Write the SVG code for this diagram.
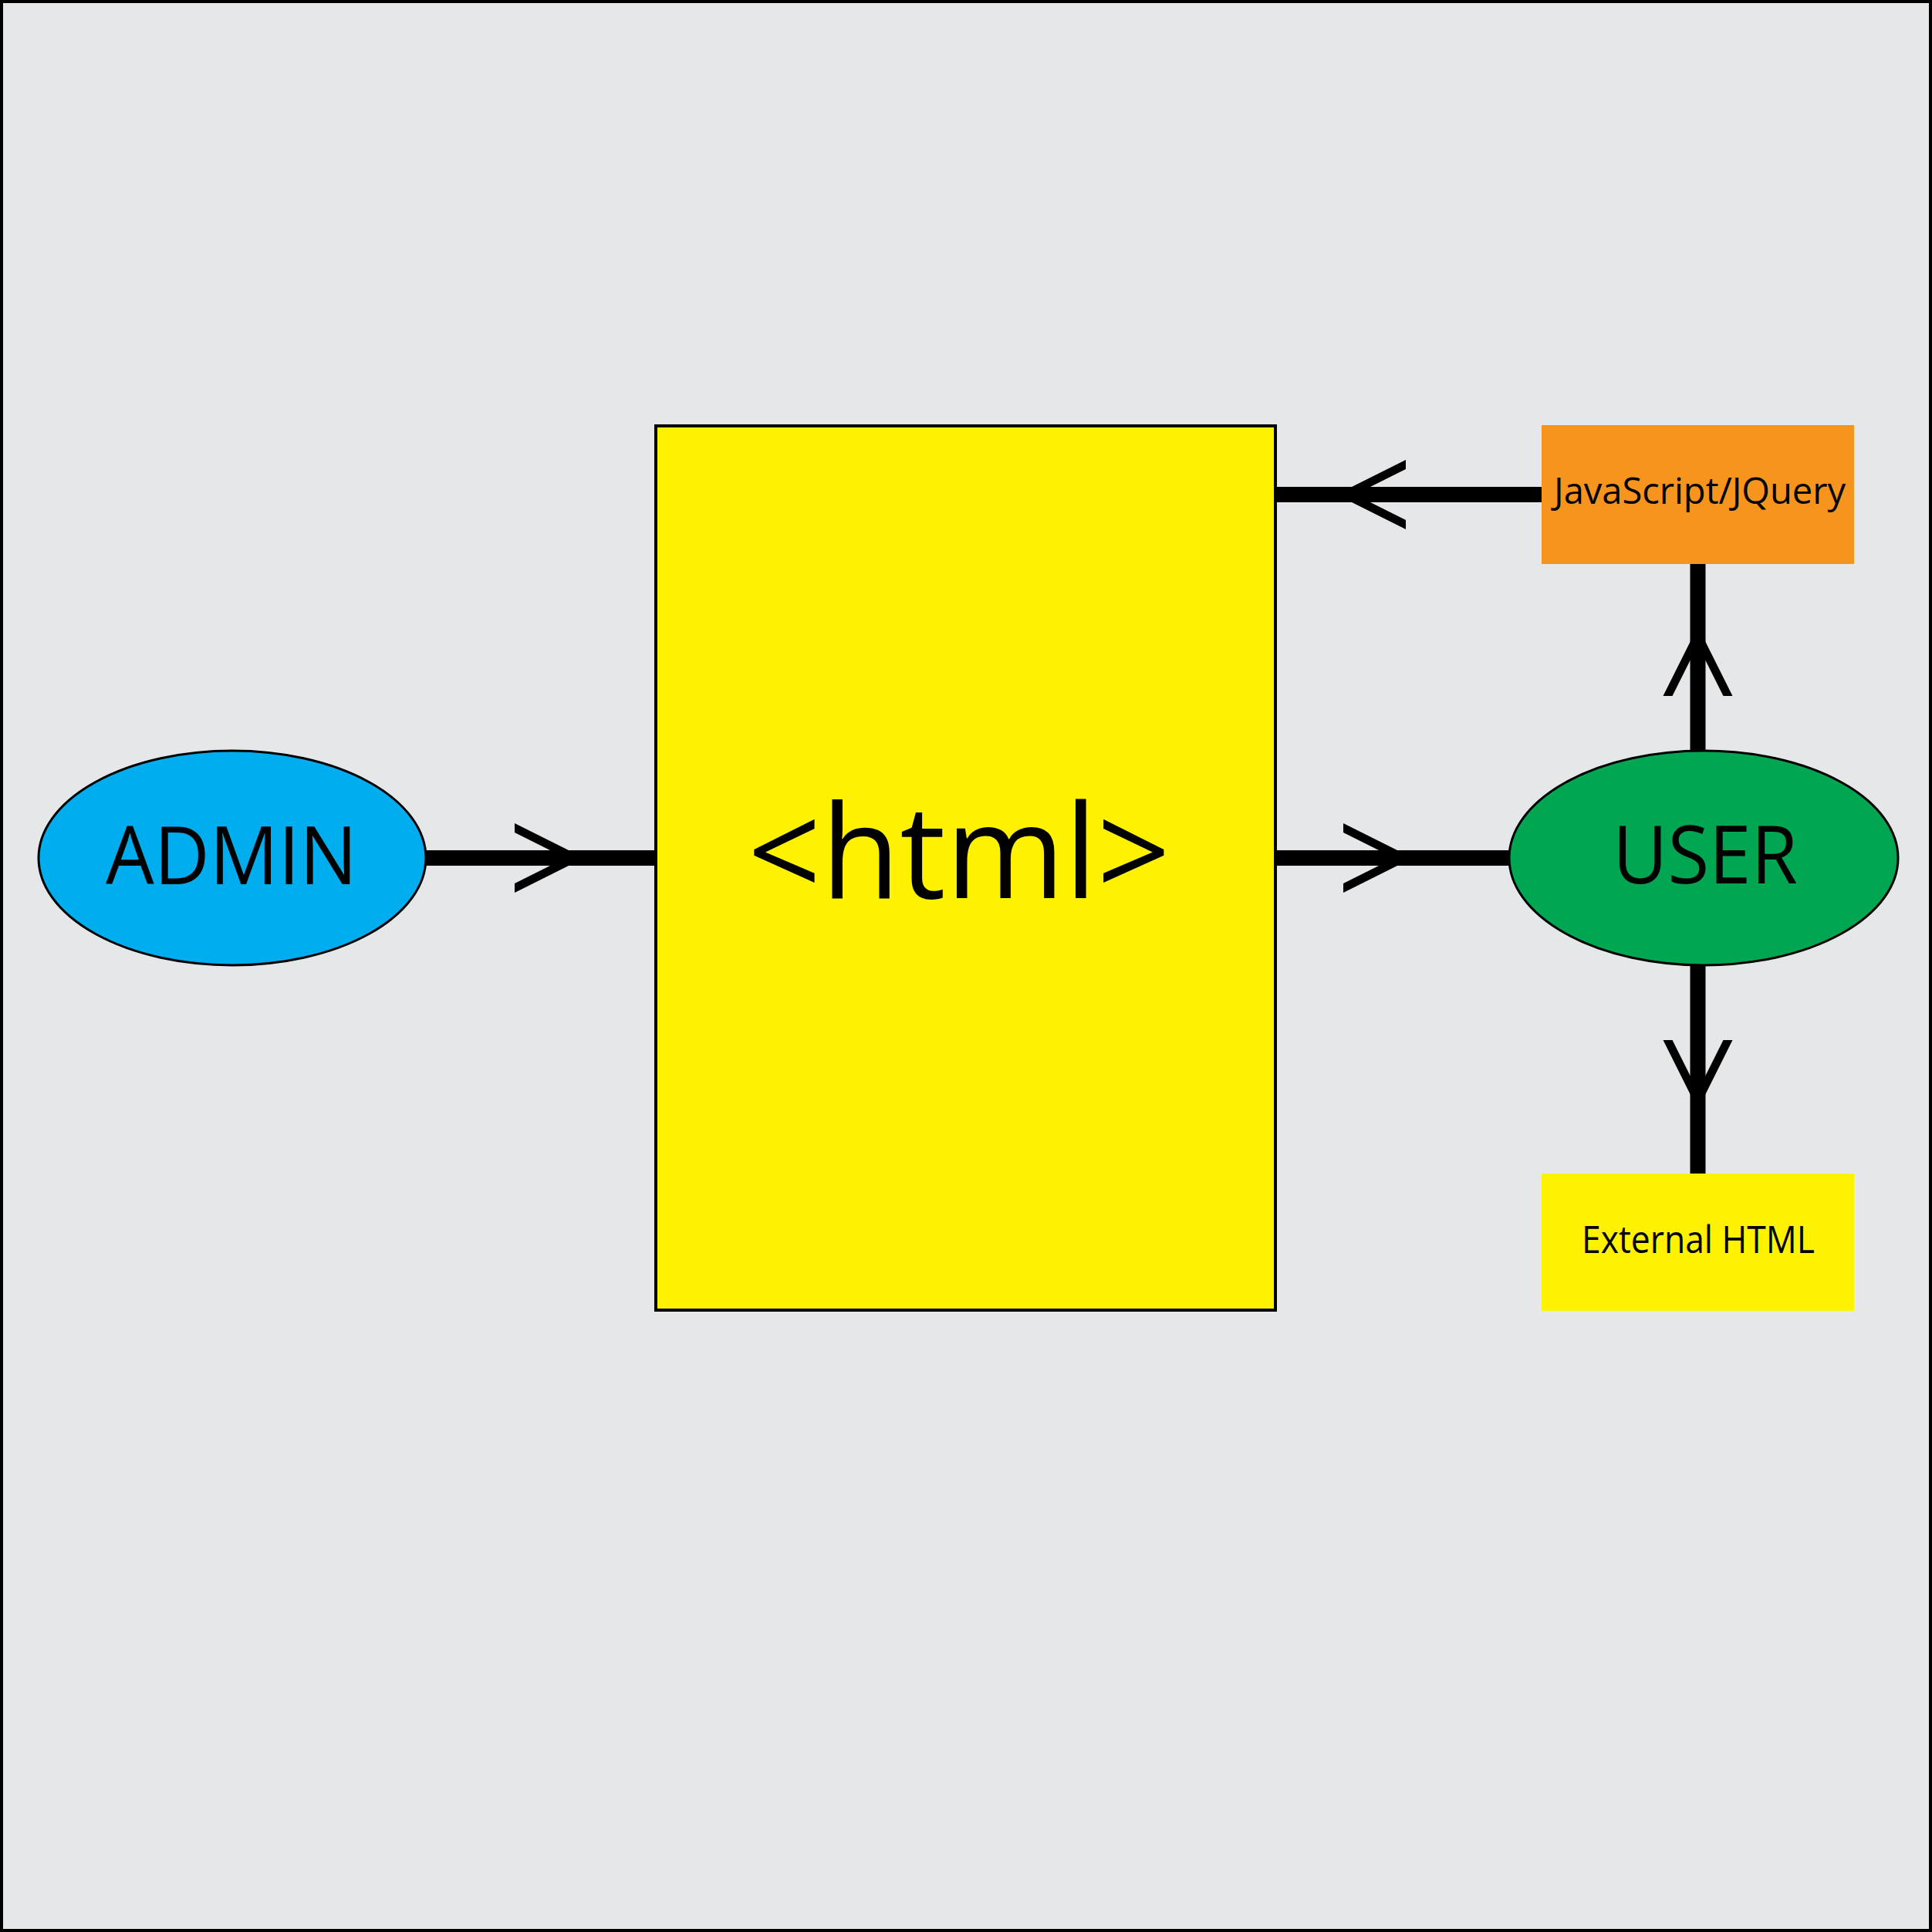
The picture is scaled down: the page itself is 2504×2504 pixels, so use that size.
<svg xmlns="http://www.w3.org/2000/svg" xmlns:xlink="http://www.w3.org/1999/xlink" width="2504" height="2504" viewBox="0 0 2504 2504">
  <style>
    .label { font-family: "Open Sans", "Noto Sans", sans-serif; fill: #000000; text-anchor: middle; }
    .edge { stroke: #000000; stroke-width: 20; fill: none; }
    .head { fill: #000000; }
    .oval { stroke: #000000; stroke-width: 3; }
  </style>
  <defs>
    <path id="chev" d="M-90,-45 L0,0 L-90,45 L-90,33 L-24,0 L-90,-33 Z"/>
  </defs>
  <rect id="frame" x="2" y="2" width="2500" height="2500" fill="#E6E7E8" stroke="#000000" stroke-width="4"/>
  <g id="connectors">
    <line class="edge" x1="550" y1="1112" x2="850" y2="1112"/>
    <use href="#chev" class="head" transform="translate(757,1112)"/>
    <line class="edge" x1="1652" y1="1112" x2="1958" y2="1112"/>
    <use href="#chev" class="head" transform="translate(1831,1112)"/>
    <line class="edge" x1="1652" y1="641" x2="1999" y2="641"/>
    <use href="#chev" class="head" transform="translate(1732,641) rotate(180)"/>
    <line class="edge" x1="2200.5" y1="730" x2="2200.5" y2="975"/>
    <use href="#chev" class="head" transform="translate(2200.5,812) rotate(-90)"/>
    <line class="edge" x1="2200.5" y1="1250" x2="2200.5" y2="1522"/>
    <use href="#chev" class="head" transform="translate(2200.5,1438) rotate(90)"/>
  </g>
  <g id="html">
    <rect x="850" y="552" width="803" height="1146" fill="#FFF200" stroke="#000000" stroke-width="4"/>
    <text class="label" x="1243" y="1164" font-size="168" textLength="548" lengthAdjust="spacingAndGlyphs">&lt;html&gt;</text>
  </g>
  <g id="admin">
    <ellipse class="oval" cx="301" cy="1112" rx="251" ry="139" fill="#00AEEF"/>
    <text class="label" x="300" y="1146" font-size="104" textLength="326" lengthAdjust="spacingAndGlyphs">ADMIN</text>
  </g>
  <g id="user">
    <ellipse class="oval" cx="2208" cy="1112" rx="252" ry="139" fill="#00A651"/>
    <text class="label" x="2210" y="1145" font-size="104" textLength="240" lengthAdjust="spacingAndGlyphs">USER</text>
  </g>
  <g id="javascript">
    <rect x="1998" y="551" width="405" height="180" fill="#F7941D"/>
    <text class="label" x="2203" y="653" font-size="48" textLength="378" lengthAdjust="spacingAndGlyphs">JavaScript/JQuery</text>
  </g>
  <g id="external">
    <rect x="1998" y="1521" width="405" height="178" fill="#FFF200"/>
    <text class="label" x="2201" y="1624" font-size="50" textLength="302" lengthAdjust="spacingAndGlyphs">External HTML</text>
  </g>
</svg>
